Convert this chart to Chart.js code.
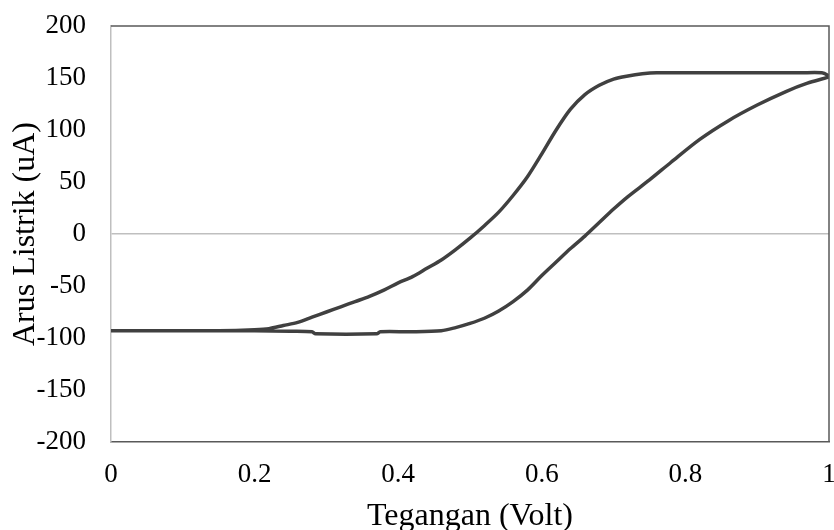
<!DOCTYPE html>
<html>
<head>
<meta charset="utf-8">
<script src="https://cdn.jsdelivr.net/npm/chart.js@4/dist/chart.umd.min.js"></script>
<style>
    html, body { margin: 0; padding: 0; background: #fff; overflow: hidden; }
    #box { width: 834px; height: 536px; }
</style>
</head>
<body>
<div id="box"><canvas id="kurva"></canvas></div>
<script>
// sapuan maju 0 -> 1 V
const teganganMaju = [0, 0.05, 0.10, 0.15, 0.20, 0.25, 0.28, 0.285, 0.37, 0.375, 0.42, 0.46, 0.48, 0.50, 0.52, 0.54, 0.56, 0.58, 0.60, 0.62, 0.64, 0.66, 0.68, 0.70, 0.72, 0.75, 0.78, 0.82, 0.86, 0.90, 0.94, 0.97, 1.0];
const arusMaju = [-93, -93, -93, -93, -93, -93.5, -94, -96, -96, -94, -94, -93, -90, -86, -81, -74, -65, -54, -40, -27, -14, -2, 11, 24, 36, 52, 69, 91, 109, 124, 137, 145, 151];

// sapuan balik 1 -> 0 V
const teganganBalik = [1.0, 0.99, 0.96, 0.92, 0.88, 0.84, 0.80, 0.76, 0.74, 0.72, 0.70, 0.68, 0.66, 0.64, 0.62, 0.60, 0.58, 0.56, 0.54, 0.52, 0.50, 0.48, 0.46, 0.44, 0.42, 0.40, 0.38, 0.36, 0.34, 0.32, 0.30, 0.28, 0.26, 0.24, 0.22, 0.20, 0.15, 0.10, 0.05, 0];
const arusBalik = [152, 155, 155, 155, 155, 155, 155, 155, 154, 152, 149, 143, 134, 120, 100, 77, 55, 37, 21, 8, -4, -15, -25, -33, -41, -47, -54, -60, -65, -70, -75, -80, -85, -88, -91, -92, -93, -93, -93, -93];

const titik = teganganMaju.concat(teganganBalik).map((v, i) => ({
    x: v,
    y: arusMaju.concat(arusBalik)[i]
}));

const bingkai = {
    id: 'bingkai',
    afterDraw(chart) {
        const { ctx, chartArea: a } = chart;
        ctx.save();
        ctx.strokeStyle = '#595959';
        ctx.lineWidth = 1.5;
        ctx.beginPath();
        ctx.moveTo(a.left, a.top);
        ctx.lineTo(a.right, a.top);
        ctx.lineTo(a.right, a.bottom);
        ctx.stroke();
        ctx.restore();
    }
};

const data = {
    datasets: [{
        label: 'Arus Listrik',
        data: titik,
        showLine: true,
        borderColor: '#404040',
        backgroundColor: '#404040',
        borderWidth: 3.5,
        pointRadius: 0,
        tension: 0.3
    }]
};

const config = {
    type: 'scatter',
    data: data,
    options: {
        responsive: true,
        maintainAspectRatio: false,
        animation: false,
        layout: {
            padding: { top: 26, right: 5, left: 0, bottom: 0 }
        },
        plugins: {
            legend: { display: false },
            tooltip: { enabled: false }
        },
        scales: {
            x: {
                type: 'linear',
                min: 0,
                max: 1,
                afterFit: (s) => {
                    s.height = 94;
                    s.paddingLeft = 0;
                    s.paddingRight = 0;
                },
                border: { color: '#595959', width: 1.5 },
                grid: { display: false, drawTicks: false },
                ticks: {
                    stepSize: 0.2,
                    padding: 17,
                    color: '#000',
                    font: { family: 'Liberation Serif', size: 27 },
                    callback: (v) => Number(v.toFixed(1)).toString()
                },
                title: {
                    display: true,
                    text: 'Tegangan (Volt)',
                    color: '#000',
                    padding: { top: 0, bottom: 0 },
                    font: { family: 'Liberation Serif', size: 32 }
                }
            },
            y: {
                min: -200,
                max: 200,
                afterFit: (s) => {
                    s.width = 111;
                    s.paddingTop = 0;
                    s.paddingBottom = 0;
                },
                border: { color: '#bfbfbf', width: 1.5 },
                grid: {
                    drawTicks: false,
                    lineWidth: 1.5,
                    color: (c) => c.tick && c.tick.value === 0 ? '#bfbfbf' : 'rgba(0,0,0,0)'
                },
                ticks: {
                    stepSize: 50,
                    padding: 25,
                    color: '#000',
                    font: { family: 'Liberation Serif', size: 27 }
                },
                title: {
                    display: true,
                    text: 'Arus Listrik (uA)',
                    color: '#000',
                    padding: { top: 6, bottom: 0 },
                    font: { family: 'Liberation Serif', size: 32 }
                }
            }
        }
    },
    plugins: [bingkai]
};

const kurva = new Chart(
    document.getElementById('kurva'),
    config
);
</script>
</body>
</html>
